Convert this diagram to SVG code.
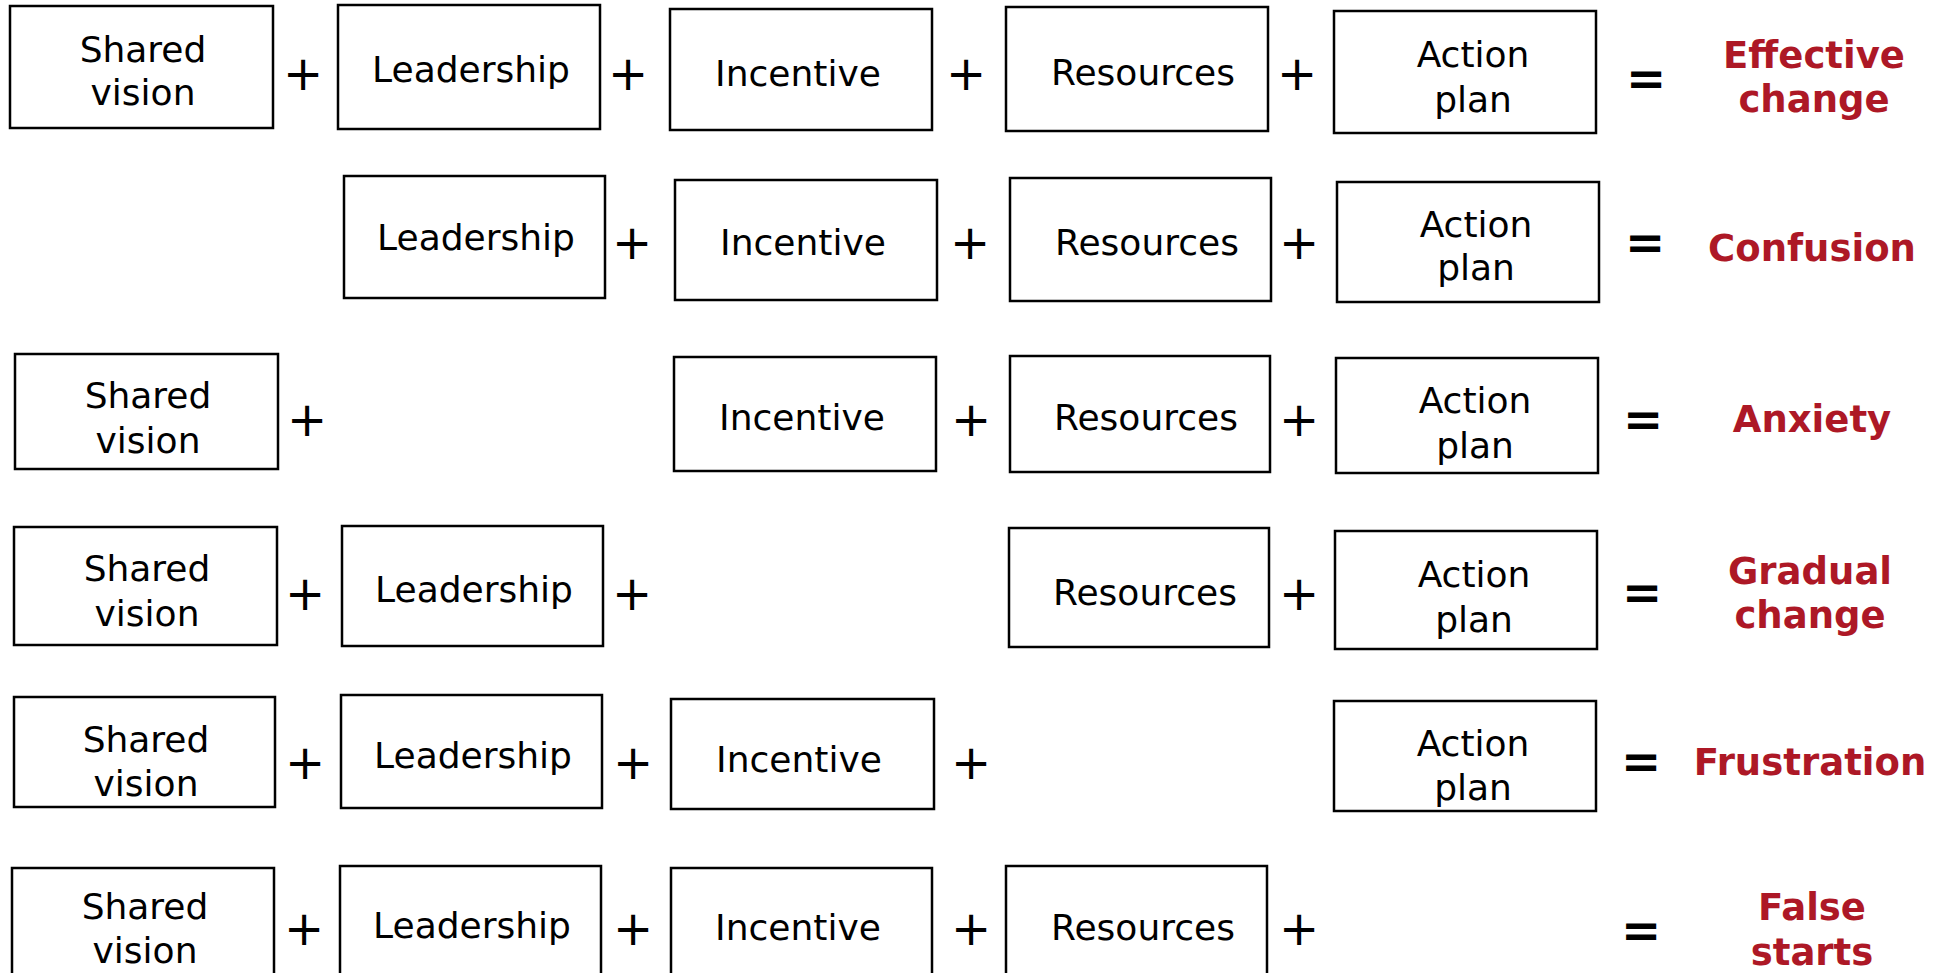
<svg xmlns="http://www.w3.org/2000/svg" width="1943" height="973" viewBox="0 0 1943 973">
<style>
rect.b{fill:#fff;stroke:#000;stroke-width:2.5}
text{font-family:"DejaVu Sans","Verdana",sans-serif;text-anchor:middle}
.t{font-size:36px;fill:#000}
.op{font-size:48px;fill:#000}
.eq{font-size:48px;font-weight:bold;fill:#000}
.r{font-size:37px;font-weight:bold;fill:#AD1826}
</style>
<rect width="1943" height="973" fill="#fff"/>
<!-- Row 1 -->
<g id="r1-shared"><rect class="b" x="10" y="6" width="263" height="122"/><text class="t" x="143" y="62">Shared</text><text class="t" x="143" y="105">vision</text></g>
<g id="r1-leadership"><rect class="b" x="338" y="5" width="262" height="124"/><text class="t" x="471" y="82">Leadership</text></g>
<g id="r1-incentive"><rect class="b" x="670" y="9" width="262" height="121"/><text class="t" x="798" y="86">Incentive</text></g>
<g id="r1-resources"><rect class="b" x="1006" y="7" width="262" height="124"/><text class="t" x="1143" y="85">Resources</text></g>
<g id="r1-action"><rect class="b" x="1334" y="11" width="262" height="122"/><text class="t" x="1473" y="67">Action</text><text class="t" x="1473" y="112">plan</text></g>
<g id="r1-ops"><text class="op" x="303" y="90">+</text><text class="op" x="628" y="90">+</text><text class="op" x="966" y="90">+</text><text class="op" x="1297" y="90">+</text><text class="eq" x="1646" y="95">=</text></g>
<g id="r1-result"><text class="r" x="1814" y="68">Effective</text><text class="r" x="1814" y="112">change</text></g>
<!-- Row 2 -->
<g id="r2-leadership"><rect class="b" x="344" y="176" width="261" height="122"/><text class="t" x="476" y="250">Leadership</text></g>
<g id="r2-incentive"><rect class="b" x="675" y="180" width="262" height="120"/><text class="t" x="803" y="255">Incentive</text></g>
<g id="r2-resources"><rect class="b" x="1010" y="178" width="261" height="123"/><text class="t" x="1147" y="255">Resources</text></g>
<g id="r2-action"><rect class="b" x="1337" y="182" width="262" height="120"/><text class="t" x="1476" y="237">Action</text><text class="t" x="1476" y="280">plan</text></g>
<g id="r2-ops"><text class="op" x="632" y="259">+</text><text class="op" x="970" y="259">+</text><text class="op" x="1299" y="259">+</text><text class="eq" x="1645" y="259">=</text></g>
<g id="r2-result"><text class="r" x="1812" y="261">Confusion</text></g>
<!-- Row 3 -->
<g id="r3-shared"><rect class="b" x="15" y="354" width="263" height="115"/><text class="t" x="148" y="408">Shared</text><text class="t" x="148" y="453">vision</text></g>
<g id="r3-incentive"><rect class="b" x="674" y="357" width="262" height="114"/><text class="t" x="802" y="430">Incentive</text></g>
<g id="r3-resources"><rect class="b" x="1010" y="356" width="260" height="116"/><text class="t" x="1146" y="430">Resources</text></g>
<g id="r3-action"><rect class="b" x="1336" y="358" width="262" height="115"/><text class="t" x="1475" y="413">Action</text><text class="t" x="1475" y="458">plan</text></g>
<g id="r3-ops"><text class="op" x="307" y="436">+</text><text class="op" x="971" y="436">+</text><text class="op" x="1299" y="436">+</text><text class="eq" x="1643" y="436">=</text></g>
<g id="r3-result"><text class="r" x="1812" y="432">Anxiety</text></g>
<!-- Row 4 -->
<g id="r4-shared"><rect class="b" x="14" y="527" width="263" height="118"/><text class="t" x="147" y="581">Shared</text><text class="t" x="147" y="626">vision</text></g>
<g id="r4-leadership"><rect class="b" x="342" y="526" width="261" height="120"/><text class="t" x="474" y="602">Leadership</text></g>
<g id="r4-resources"><rect class="b" x="1009" y="528" width="260" height="119"/><text class="t" x="1145" y="605">Resources</text></g>
<g id="r4-action"><rect class="b" x="1335" y="531" width="262" height="118"/><text class="t" x="1474" y="587">Action</text><text class="t" x="1474" y="632">plan</text></g>
<g id="r4-ops"><text class="op" x="305" y="610">+</text><text class="op" x="632" y="610">+</text><text class="op" x="1299" y="610">+</text><text class="eq" x="1642" y="609">=</text></g>
<g id="r4-result"><text class="r" x="1810" y="584">Gradual</text><text class="r" x="1810" y="628">change</text></g>
<!-- Row 5 -->
<g id="r5-shared"><rect class="b" x="14" y="697" width="261" height="110"/><text class="t" x="146" y="752">Shared</text><text class="t" x="146" y="796">vision</text></g>
<g id="r5-leadership"><rect class="b" x="341" y="695" width="261" height="113"/><text class="t" x="473" y="768">Leadership</text></g>
<g id="r5-incentive"><rect class="b" x="671" y="699" width="263" height="110"/><text class="t" x="799" y="772">Incentive</text></g>
<g id="r5-action"><rect class="b" x="1334" y="701" width="262" height="110"/><text class="t" x="1473" y="756">Action</text><text class="t" x="1473" y="800">plan</text></g>
<g id="r5-ops"><text class="op" x="305" y="779">+</text><text class="op" x="633" y="779">+</text><text class="op" x="971" y="779">+</text><text class="eq" x="1641" y="778">=</text></g>
<g id="r5-result"><text class="r" x="1810" y="775">Frustration</text></g>
<!-- Row 6 -->
<g id="r6-shared"><rect class="b" x="12" y="868" width="262" height="115"/><text class="t" x="145" y="919">Shared</text><text class="t" x="145" y="963">vision</text></g>
<g id="r6-leadership"><rect class="b" x="340" y="866" width="261" height="117"/><text class="t" x="472" y="938">Leadership</text></g>
<g id="r6-incentive"><rect class="b" x="671" y="868" width="261" height="115"/><text class="t" x="798" y="940">Incentive</text></g>
<g id="r6-resources"><rect class="b" x="1006" y="866" width="261" height="117"/><text class="t" x="1143" y="940">Resources</text></g>
<g id="r6-ops"><text class="op" x="304" y="945">+</text><text class="op" x="633" y="945">+</text><text class="op" x="971" y="945">+</text><text class="op" x="1299" y="945">+</text><text class="eq" x="1641" y="947">=</text></g>
<g id="r6-result"><text class="r" x="1812" y="920">False</text><text class="r" x="1812" y="965">starts</text></g>
<g id="connectors"></g>
</svg>
